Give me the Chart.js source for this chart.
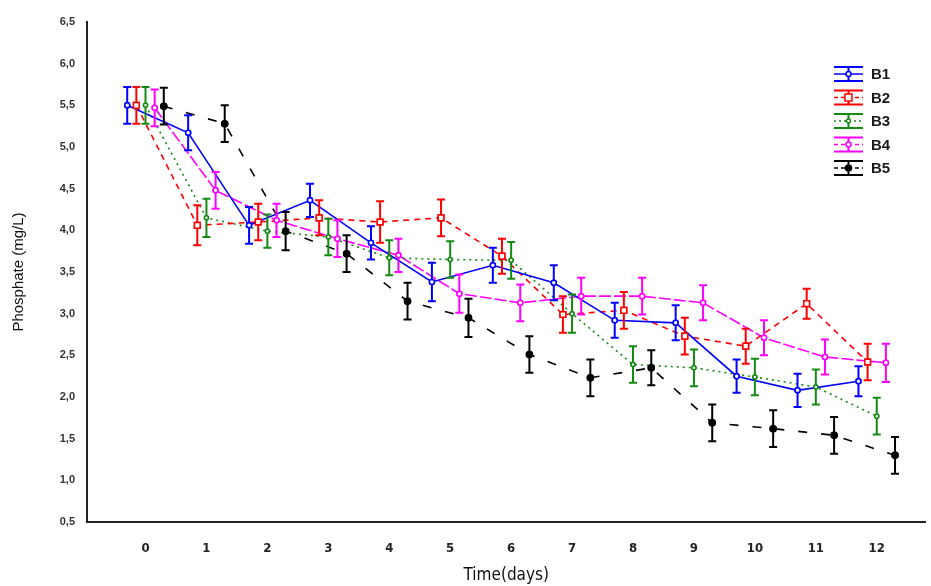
<!DOCTYPE html>
<html>
<head>
<meta charset="utf-8">
<script src="https://cdn.jsdelivr.net/npm/chart.js@4.4.1/dist/chart.umd.min.js"></script>
<style>
  html, body { margin: 0; padding: 0; background: #fff; }
  #wrap { width: 931px; height: 586px; }
</style>
</head>
<body>
<div id="wrap"><canvas id="graphique"></canvas></div>
<script>
// data
const days = [0, 1, 2, 3, 4, 5, 6, 7, 8, 9, 10, 11, 12];
const yTicks = [0.5, 1, 1.5, 2, 2.5, 3, 3.5, 4, 4.5, 5, 5.5, 6, 6.5];

const b1 = [5.50, 5.17, 4.06, 4.36, 3.85, 3.38, 3.58, 3.37, 2.92, 2.89, 2.25, 2.08, 2.19];
const b1Err = [0.22, 0.21, 0.22, 0.20, 0.20, 0.23, 0.21, 0.21, 0.21, 0.21, 0.20, 0.20, 0.18];
const b2 = [5.50, 4.06, 4.10, 4.15, 4.10, 4.15, 3.69, 2.99, 3.04, 2.73, 2.61, 3.12, 2.42];
const b2Err = [0.22, 0.24, 0.22, 0.21, 0.25, 0.22, 0.21, 0.22, 0.22, 0.22, 0.21, 0.18, 0.22];
const b3 = [5.50, 4.15, 3.99, 3.92, 3.67, 3.65, 3.64, 3.00, 2.39, 2.35, 2.24, 2.12, 1.77];
const b3Err = [0.22, 0.23, 0.20, 0.22, 0.21, 0.22, 0.22, 0.23, 0.22, 0.22, 0.22, 0.21, 0.22];
const b4 = [5.47, 4.48, 4.12, 3.90, 3.70, 3.24, 3.13, 3.21, 3.21, 3.13, 2.71, 2.48, 2.41];
const b4Err = [0.22, 0.22, 0.20, 0.22, 0.20, 0.23, 0.22, 0.22, 0.22, 0.21, 0.21, 0.21, 0.23];
const b5 = [5.49, 5.28, 3.99, 3.72, 3.15, 2.95, 2.51, 2.23, 2.35, 1.69, 1.62, 1.54, 1.30];
const b5Err = [0.22, 0.22, 0.23, 0.22, 0.22, 0.23, 0.22, 0.22, 0.21, 0.22, 0.22, 0.22, 0.22];

// series look: name, values, errors, colour, dash, marker, small x shift so bars don't overlap
const series = [
  { label: "B1", values: b1, errs: b1Err, color: "#0000ff", dash: [], marker: "circle", fill: "#fff", r: 2.5, shift: -0.3 },
  { label: "B2", values: b2, errs: b2Err, color: "#ff0000", dash: [6, 5], marker: "rect", fill: "#fff", r: 4, shift: -0.15 },
  { label: "B3", values: b3, errs: b3Err, color: "#138a13", dash: [2, 4], marker: "circle", fill: "#fff", r: 2, shift: 0 },
  { label: "B4", values: b4, errs: b4Err, color: "#ff00ff", dash: [12, 3], marker: "circle", fill: "#fff", r: 2.5, shift: 0.15 },
  { label: "B5", values: b5, errs: b5Err, color: "#000000", dash: [9, 14], marker: "circle", fill: "#000", r: 3, shift: 0.3 }
];

const FONT = "'Liberation Sans', Arial, sans-serif";
const NARROW = "'Liberation Sans Narrow', 'DejaVu Sans Condensed', Arial, sans-serif";

// error bars drawn from the scales
const errorBars = {
  id: "errorBars",
  afterDatasetsDraw(chart) {
    const ctx = chart.ctx;
    const ys = chart.scales.y;
    chart.data.datasets.forEach((ds, i) => {
      const meta = chart.getDatasetMeta(i);
      ctx.save();
      ctx.strokeStyle = ds.borderColor;
      ctx.lineWidth = 2;
      ctx.setLineDash([]);
      meta.data.forEach((pt, j) => {
        const v = ds.data[j].y;
        const e = ds.errs[j];
        const top = ys.getPixelForValue(v + e);
        const bot = ys.getPixelForValue(v - e);
        const x = pt.x;
        ctx.beginPath();
        ctx.moveTo(x, top); ctx.lineTo(x, bot);
        ctx.moveTo(x - 4, top); ctx.lineTo(x + 4, top);
        ctx.moveTo(x - 4, bot); ctx.lineTo(x + 4, bot);
        ctx.stroke();
      });
      ctx.restore();
      // redraw markers on top of the bars
      meta.data.forEach(pt => pt.draw(ctx, chart.chartArea));
    });
  }
};

// legend in the top right corner
const legendBox = {
  id: "legendBox",
  afterDraw(chart) {
    const ctx = chart.ctx;
    ctx.save();
    series.forEach((s, i) => {
      const cy = 74 + i * 23.5;
      const x0 = 834, x1 = 863, cx = 848.5;
      ctx.strokeStyle = s.color;
      ctx.lineWidth = 2;
      ctx.setLineDash([]);
      ctx.beginPath();
      ctx.moveTo(x0, cy - 7); ctx.lineTo(x1, cy - 7);
      ctx.moveTo(x0, cy + 7); ctx.lineTo(x1, cy + 7);
      ctx.moveTo(cx, cy - 7); ctx.lineTo(cx, cy + 7);
      ctx.stroke();
      ctx.lineWidth = 1.5;
      ctx.setLineDash(s.dash.length ? [Math.min(s.dash[0], 4), 3] : []);
      ctx.beginPath();
      ctx.moveTo(x0, cy); ctx.lineTo(x1, cy);
      ctx.stroke();
      ctx.setLineDash([]);
      ctx.fillStyle = s.fill;
      ctx.lineWidth = 1.5;
      if (s.marker === "rect") {
        ctx.fillRect(cx - 3.5, cy - 3.5, 7, 7);
        ctx.strokeRect(cx - 3.5, cy - 3.5, 7, 7);
      } else {
        ctx.beginPath();
        ctx.arc(cx, cy, s.r, 0, Math.PI * 2);
        ctx.fill(); ctx.stroke();
      }
      ctx.fillStyle = "#1a1a1a";
      ctx.font = "bold 15px " + FONT;
      ctx.textBaseline = "middle";
      ctx.textAlign = "left";
      ctx.fillText(s.label, 871, cy + 1);
    });
    ctx.restore();
  }
};

function createChart() {
  const ctx = document.getElementById("graphique");

  const datasets = series.map(s => ({
    label: s.label,
    data: s.values.map((v, k) => ({ x: days[k] + s.shift, y: v })),
    errs: s.errs,
    borderColor: s.color,
    backgroundColor: s.fill,
    borderWidth: 1.6,
    borderDash: s.dash,
    pointStyle: s.marker,
    pointRadius: s.r,
    pointBorderWidth: 1.5,
    pointBorderColor: s.color,
    pointBackgroundColor: s.fill,
    tension: 0,
    fill: false
  }));

  new Chart(ctx, {
    type: "line",
    data: { datasets: datasets },
    plugins: [errorBars, legendBox],
    options: {
      responsive: true,
      maintainAspectRatio: false,
      animation: false,
      layout: { padding: { top: 22, right: 2, left: 0, bottom: 0 } },
      plugins: {
        legend: { display: false },
        tooltip: { enabled: false }
      },
      scales: {
        x: {
          type: "linear",
          min: -0.96,
          max: 12.8,
          afterBuildTicks: axis => { axis.ticks = days.map(d => ({ value: d })); },
          afterFit: axis => { axis.height = 64; },
          grid: { display: false, drawTicks: false },
          border: { display: true, color: "#222", width: 2 },
          ticks: {
            color: "#222",
            padding: 19,
            maxRotation: 0,
            autoSkip: false,
            font: { family: NARROW, size: 13, weight: "bold" },
            callback: v => String(v)
          },
          title: {
            display: true,
            text: "Time(days)",
            color: "#111",
            padding: { top: 0, bottom: 0 },
            font: { family: NARROW, size: 17 }
          }
        },
        y: {
          min: 0.5,
          max: 6.5,
          afterBuildTicks: axis => { axis.ticks = yTicks.map(v => ({ value: v })); },
          afterFit: axis => { axis.width = 87; },
          grid: { display: false, drawTicks: false },
          border: { display: true, color: "#222", width: 2 },
          ticks: {
            color: "#333",
            padding: 12,
            font: { family: FONT, size: 11, weight: "bold" },
            callback: v => Number(v).toFixed(1).replace(".", ",")
          },
          title: {
            display: true,
            text: "Phosphate (mg/L)",
            color: "#111",
            padding: { top: 10, bottom: 0 },
            font: { family: FONT, size: 15 }
          }
        }
      }
    }
  });
}

document.addEventListener("DOMContentLoaded", createChart);
</script>
</body>
</html>
